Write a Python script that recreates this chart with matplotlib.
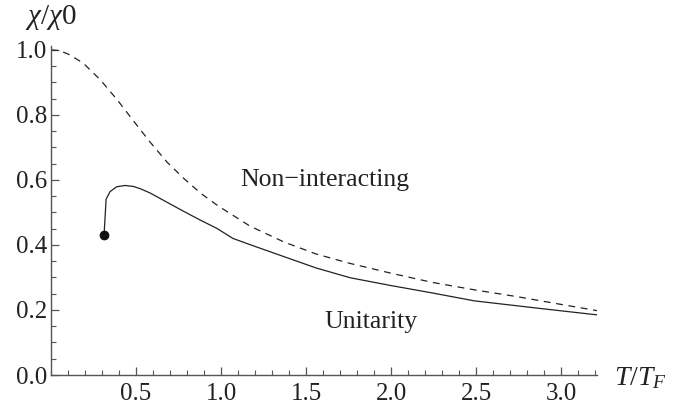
import matplotlib
matplotlib.use("Agg")
import matplotlib.pyplot as plt
from matplotlib.ticker import FixedLocator, MultipleLocator

plt.rcParams["font.family"] = ["Liberation Serif", "DejaVu Serif"]
plt.rcParams["mathtext.fontset"] = "custom"
plt.rcParams["mathtext.rm"] = "Liberation Serif"
plt.rcParams["mathtext.it"] = "Liberation Serif:italic"

# non-interacting Fermi gas
free_t = [0.0, 0.05, 0.11, 0.19, 0.29, 0.39, 0.48, 0.58, 0.68, 0.78, 0.88, 0.98,
          1.17, 1.37, 1.56, 1.76, 2.0, 2.24, 2.5, 2.74, 3.0, 3.21]
free_chi = [1.0, 0.998, 0.985, 0.959, 0.908, 0.846, 0.785, 0.718, 0.656, 0.605, 0.559, 0.521,
            0.458, 0.409, 0.372, 0.343, 0.313, 0.285, 0.261, 0.241, 0.217, 0.198]

# unitary gas
unit_t = [0.312, 0.324, 0.347, 0.386, 0.435, 0.484, 0.53, 0.582, 0.68, 0.778, 0.876, 0.975,
          1.07, 1.17, 1.37, 1.56, 1.76, 2.0, 2.235, 2.49, 2.87, 3.21]
unit_chi = [0.431, 0.541, 0.564, 0.579, 0.583, 0.580, 0.572, 0.560, 0.532, 0.504, 0.477, 0.451,
            0.42, 0.401, 0.364, 0.329, 0.299, 0.275, 0.253, 0.228, 0.205, 0.185]

x_major = [0.5, 1.0, 1.5, 2.0, 2.5, 3.0]
y_major = [0.0, 0.2, 0.4, 0.6, 0.8, 1.0]

fig = plt.figure(figsize=(6.76, 4.08), dpi=100)
ax = fig.add_axes([51 / 676, 33 / 408, 546 / 676, 329 / 408])

ax.plot(free_t, free_chi, color="#222222", lw=0.9, dashes=(5.5, 4.5))
ax.plot(unit_t, unit_chi, color="#222222", lw=0.9)
ax.plot(unit_t[0], unit_chi[0], "o", color="#111111", ms=6)

ax.set_xlim(0, 3.21)
ax.set_ylim(0, 1.012)
for side in ("top", "right"):
    ax.spines[side].set_visible(False)
for side in ("left", "bottom"):
    ax.spines[side].set_color("#555555")
    ax.spines[side].set_linewidth(1.0)

ax.xaxis.set_major_locator(FixedLocator(x_major))
ax.xaxis.set_minor_locator(MultipleLocator(0.1))
ax.set_xticklabels([f"{v:.1f}" for v in x_major])
ax.yaxis.set_major_locator(FixedLocator(y_major))
ax.yaxis.set_minor_locator(MultipleLocator(0.05))
ax.set_yticklabels([f"{v:.1f}" for v in y_major])

ax.tick_params(which="both", direction="in", color="#555555", labelsize=18,
               labelcolor="#222222")
ax.tick_params(which="major", length=6, width=0.9)
ax.tick_params(which="minor", length=3.5, width=0.8)
ax.tick_params(axis="x", pad=6)
ax.tick_params(axis="y", pad=3)

ax.text(1.61, 0.60, "Non\u2212interacting", fontsize=18.5, color="#222222",
        ha="center", va="center")
ax.text(1.88, 0.163, "Unitarity", fontsize=18.5, color="#222222",
        ha="center", va="center")

fig.text(51 / 676, 1 - 18 / 408, r"$\chi/\chi0$", fontsize=21, color="#222222",
         ha="center", va="center")
fig.text(614 / 676, 1 - 378 / 408, r"$T/T_F$", fontsize=20, color="#222222",
         ha="left", va="center")

fig.savefig("out.png", dpi=100)
